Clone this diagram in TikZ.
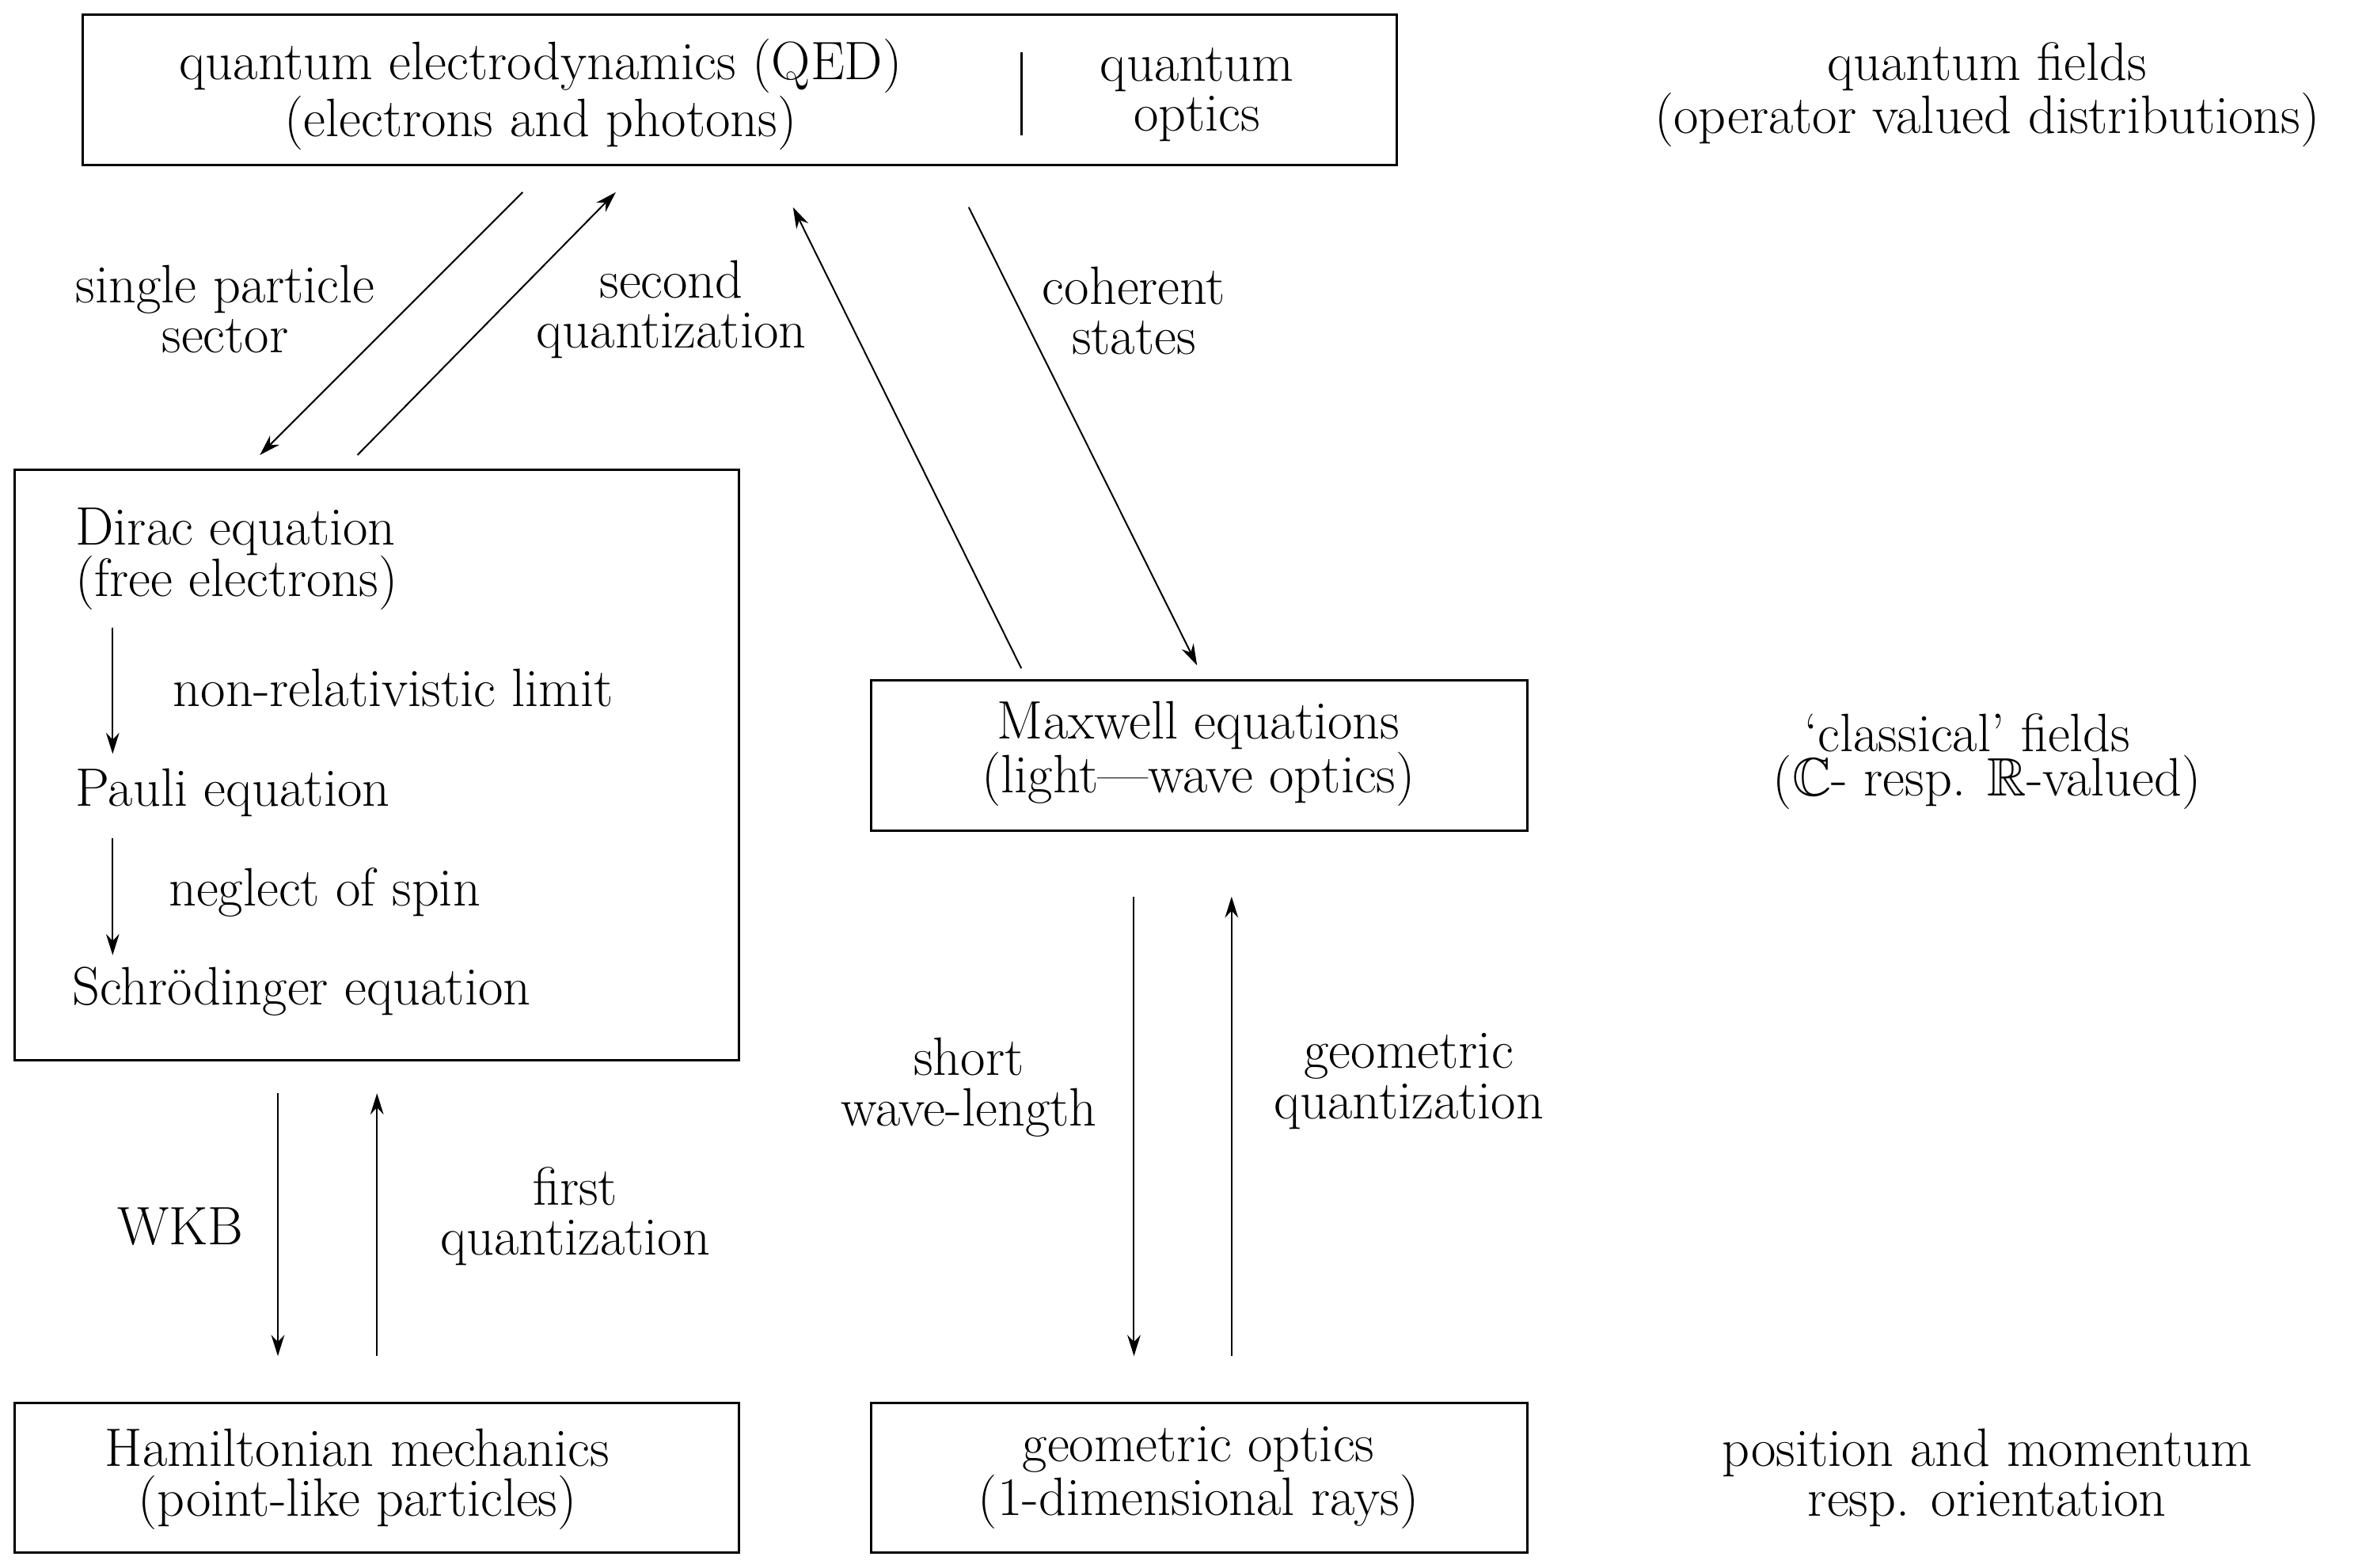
\documentclass[tikz,border=0pt]{standalone}
\usepackage{amssymb}
\usetikzlibrary{arrows.meta}
\begin{document}
\begin{tikzpicture}[x=0.02cm,y=-0.02cm,
  box/.style={draw,line width=0.9pt},
  txt/.style={align=center,inner sep=0pt,font=\fontsize{20.5}{19}\selectfont},
  ltxt/.style={anchor=west,inner sep=0pt,font=\fontsize{20.5}{19}\selectfont},
  arr/.style={-{Stealth[length=8pt,width=5pt]},line width=0.6pt}]
\useasboundingbox (0,0) rectangle (1568,1044);
% boxes
\draw[box] (55,10) rectangle (930,110);
\draw[box] (10,313) rectangle (492,706);
\draw[box] (580,453) rectangle (1017,553);
\draw[box] (10,934) rectangle (492,1034);
\draw[box] (580,934) rectangle (1017,1034);
\draw[line width=0.9pt] (680,35) -- (680,90);
% box texts
\node[txt] (qed) at (360,63) {quantum electrodynamics (QED)\\(electrons and photons)};
\node[txt] (qo) at (797,63) {quantum\\optics};
\node[ltxt] (dirac) at (50,354) {Dirac equation};
\node[ltxt] (free) at (50,388) {(free electrons)};
\node[ltxt] (nrl) at (115,458) {non-relativistic limit};
\node[ltxt] (pauli) at (50,528) {Pauli equation};
\node[ltxt] (nos) at (112,594) {neglect of spin};
\node[ltxt] (schr) at (48,660) {Schr\"odinger equation};
\node[txt] (maxw) at (798,502) {Maxwell equations\\(light---wave optics)};
\node[txt] (ham) at (238,985) {Hamiltonian mechanics\\(point-like particles)};
\node[txt] (geo) at (798,984) {geometric optics\\(1-dimensional rays)};
% right labels
\node[txt] (qf) at (1323,63) {quantum fields\\(operator valued distributions)};
\node[txt] (cf1) at (1310,488) {`classical' fields};
\node[txt] (cf2) at (1323,521) {($\mathbb{C}$- resp. $\mathbb{R}$-valued)};
\node[txt] (pm) at (1323,984) {position and momentum\\resp. orientation};
% arrow labels
\node[txt] (l1) at (150,206) {single particle\\sector};
\node[txt] (l2) at (447,206) {second\\quantization};
\node[txt] (l3) at (755,207) {coherent\\states};
\node[txt] (l4) at (120,817) {WKB};
\node[txt] (l5) at (383,810) {first\\quantization};
\node[txt] (l6) at (645,724) {short\\wave-length};
\node[txt] (l7) at (938,720) {geometric\\quantization};
% coordinates
\coordinate (a1) at (348,128); \coordinate (b1) at (173,303);
\coordinate (a2) at (238,303); \coordinate (b2) at (410,128);
\coordinate (a3) at (680,445); \coordinate (b3) at (528,138);
\coordinate (a4) at (645,138); \coordinate (b4) at (797,443);
\coordinate (a5) at (185,728); \coordinate (b5) at (185,903);
\coordinate (a6) at (251,903); \coordinate (b6) at (251,728);
\coordinate (a7) at (755,597); \coordinate (b7) at (755,903);
\coordinate (a8) at (820,903); \coordinate (b8) at (820,597);
\coordinate (a9) at (75,418); \coordinate (b9) at (75,502);
\coordinate (a10) at (75,558); \coordinate (b10) at (75,636);
\foreach \i in {1,...,10} {\draw[arr] (a\i) -- (b\i);}
\end{tikzpicture}
\end{document}
